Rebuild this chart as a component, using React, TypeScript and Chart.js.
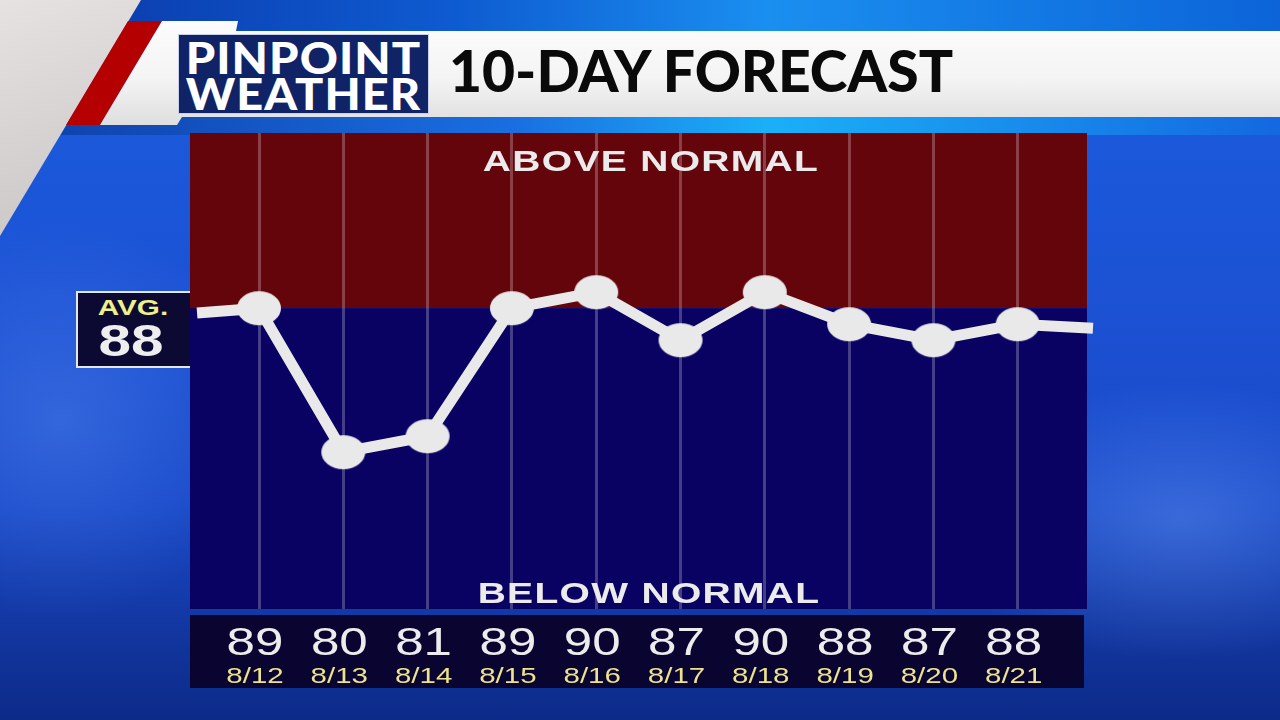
import React, { useEffect, useRef } from "react";
import { Chart, registerables } from "chart.js";

Chart.register(...registerables);

// ---- data ----
const dates = ["8/12", "8/13", "8/14", "8/15", "8/16", "8/17", "8/18", "8/19", "8/20", "8/21"];
const highs = [89, 80, 81, 89, 90, 87, 90, 88, 87, 88];
const avgHigh = 88;
const normalBoundary = 89; // where the red / blue bands meet
const lineLeadIn = 88.7; // line continues off the first day
const lineLeadOut = 87.75; // line continues past the last day
const yMin = 70.2;
const yMax = 99.95;

const SANS = "'Liberation Sans', Arial, sans-serif";

export default function App() {
  const ref = useRef<HTMLCanvasElement>(null);

  useEffect(() => {
    const canvas = ref.current!;
    const dot = document.createElement("canvas");
    dot.width = 46;
    dot.height = 36;
    const dc = dot.getContext("2d")!;
    dc.fillStyle = "#e9e9e9";
    dc.beginPath();
    dc.ellipse(23, 18, 22, 17, 0, 0, Math.PI * 2);
    dc.fill();

    const bandPlugin = {
      id: "bands",
      beforeDraw(chart: any) {
        const { ctx, chartArea: a, scales } = chart;
        const yb = scales.y.getPixelForValue(normalBoundary);
        ctx.save();
        ctx.fillStyle = "rgb(100,5,12)";
        ctx.fillRect(a.left, a.top, a.right - a.left, yb - a.top);
        ctx.fillStyle = "rgb(10,2,98)";
        ctx.fillRect(a.left, yb, a.right - a.left, a.bottom - yb);
        ctx.restore();
      },
    };

    // draws the axis tick labels horizontally stretched, like the broadcast graphic
    const stretchLabels = {
      id: "stretchLabels",
      afterDraw(chart: any) {
        const { ctx } = chart;
        const specs = [
          { id: "x", size: 39, color: "#ececec", base: 46 },
          { id: "xd", size: 22.5, color: "#ece38c", base: 24 },
        ];
        ctx.save();
        ctx.textAlign = "center";
        ctx.textBaseline = "alphabetic";
        for (const s of specs) {
          const scale = chart.scales[s.id];
          ctx.font = `${s.size}px ${SANS}`;
          ctx.fillStyle = s.color;
          scale.ticks.forEach((t: any) => {
            const px = scale.getPixelForValue(t.value) - 4;
            ctx.save();
            ctx.translate(px, scale.top + s.base);
            ctx.scale(1.31, 1);
            ctx.fillText(String(t.label), 0, 0);
            ctx.restore();
          });
        }
        ctx.restore();
      },
    };

    const pts = [
      { x: -0.735, y: lineLeadIn },
      ...highs.map((v, i) => ({ x: i, y: v })),
      { x: 9.893, y: lineLeadOut },
    ];
    const last = pts.length - 1;
    const xMin = -0.8185;
    const xMax = 9.822;
    const dayTicks = (s: any) => {
      s.ticks = highs.map((_, i) => ({ value: i }));
    };

    const chart = new Chart(canvas, {
      type: "line",
      data: {
        datasets: [
          {
            data: pts,
            xAxisID: "x",
            yAxisID: "y",
            borderColor: "#e9e9e9",
            borderWidth: 11,
            tension: 0,
            clip: false as any,
            pointStyle: dot as any,
            pointRadius: (c: any) => (c.dataIndex === 0 || c.dataIndex === last ? 0 : 17),
            pointHoverRadius: (c: any) => (c.dataIndex === 0 || c.dataIndex === last ? 0 : 17),
          },
        ],
      },
      options: {
        animation: false,
        responsive: false,
        events: [],
        layout: { padding: { left: 190, top: 133, right: 193, bottom: 31 } },
        plugins: { legend: { display: false }, tooltip: { enabled: false } },
        scales: {
          x: {
            type: "linear",
            position: "bottom",
            weight: 0,
            min: xMin,
            max: xMax,
            afterBuildTicks: dayTicks,
            afterFit: (s: any) => {
              s.height = 50;
            },
            ticks: {
              callback: (v: any) => String(highs[v]),
              font: { family: SANS, size: 38 },
              color: "rgba(0,0,0,0)",
              padding: 9,
              maxRotation: 0,
              autoSkip: false,
            },
            grid: { color: "rgba(255,255,255,0.24)", lineWidth: 3, drawTicks: false },
            border: { display: false },
          },
          xd: {
            type: "linear",
            position: "bottom",
            weight: 1,
            min: xMin,
            max: xMax,
            afterBuildTicks: dayTicks,
            afterFit: (s: any) => {
              s.height = 30;
            },
            ticks: {
              callback: (v: any) => dates[v],
              font: { family: SANS, size: 22 },
              color: "rgba(0,0,0,0)",
              padding: 3,
              maxRotation: 0,
              autoSkip: false,
            },
            grid: { display: false, drawTicks: false },
            border: { display: false },
          },
          y: { display: false, min: yMin, max: yMax },
        },
      },
      plugins: [bandPlugin, stretchLabels],
    } as any);
    return () => chart.destroy();
  }, []);

  const abs = (s: React.CSSProperties): React.CSSProperties => ({ position: "absolute", ...s });

  return (
    <div
      style={{
        position: "fixed",
        left: 0,
        top: 0,
        width: 1280,
        height: 720,
        overflow: "hidden",
        fontFamily: SANS,
        background:
          "radial-gradient(ellipse 240px 140px at 1180px 520px, rgba(120,170,255,0.35), rgba(120,170,255,0) 100%)," +
          "radial-gradient(ellipse 200px 200px at 60px 420px, rgba(110,160,255,0.3), rgba(110,160,255,0) 100%)," +
          "linear-gradient(180deg, #1a5ee0 0%, #1c52d4 40%, #1848c8 70%, #12369f 88%, #0c2a88 100%)",
      }}
    >
      {/* top strip */}
      <div style={abs({ left: 0, top: 0, width: 1280, height: 32, background: "linear-gradient(90deg, #0a36a6 0%, #0e5ad0 35%, #1a8ff0 60%, #0c64d8 100%)" })} />
      {/* strip between header and plot */}
      <div style={abs({ left: 0, top: 117, width: 1280, height: 18, background: "linear-gradient(90deg, #0d3ea8 0%, #1a6ee0 40%, #1ab0f8 60%, #1468e0 100%)" })} />
      {/* grey corner */}
      <div style={abs({ left: 0, top: 0, width: 141, height: 236, background: "linear-gradient(160deg, #e6e2e2, #c9c4c4)", clipPath: "polygon(0 0, 141px 0, 0 236px)" })} />
      {/* red stripe */}
      <div style={abs({ left: 0, top: 0, width: 240, height: 130, background: "#b40000", clipPath: "polygon(128px 21px, 162px 21px, 100px 125px, 66px 125px)" })} />
      {/* white header bar */}
      <div
        style={abs({
          left: 0,
          top: 0,
          width: 1280,
          height: 130,
          background: "linear-gradient(180deg, #ffffff 0%, #f4f4f4 60%, #dcdcdc 100%)",
          clipPath: "polygon(162px 21px, 238px 21px, 236px 31px, 1280px 31px, 1280px 117px, 182px 117px, 177px 125px, 100px 125px)",
        })}
      />
      {/* logo */}
      <div
        style={abs({
          left: 178,
          top: 34,
          width: 249,
          height: 78,
          background: "#0f2366",
          border: "1px solid #c8d0e8",
          color: "#ffffff",
          fontFamily: "Lato, sans-serif",
          fontWeight: 900,
          textAlign: "center",
        })}
      >
        <div style={abs({ left: 0, top: 1, width: 249, fontSize: 44, lineHeight: "42px", letterSpacing: 1, transform: "scaleX(1.07)" })}>PINPOINT</div>
        <div style={abs({ left: 0, top: 38, width: 249, fontSize: 43, lineHeight: "42px", letterSpacing: 1, transform: "scaleX(1.09)" })}>WEATHER</div>
      </div>
      {/* title */}
      <div style={abs({ left: 449, top: 42, fontFamily: "Lato, sans-serif", fontWeight: 900, fontSize: 57, lineHeight: "57px", color: "#0a0a0a", whiteSpace: "nowrap" })}>
        10-DAY FORECAST
      </div>
      {/* average box */}
      <div style={abs({ left: 76, top: 291, width: 130, height: 73, background: "#0c0a32", border: "2px solid #e6e6e6" })} />
      <div style={abs({ left: 83, top: 297, width: 100, textAlign: "center", fontWeight: 700, fontSize: 22, lineHeight: "22px", color: "#eef08a", transform: "scaleX(1.35)" })}>AVG.</div>
      <div style={abs({ left: 81, top: 318, width: 100, textAlign: "center", fontWeight: 700, fontSize: 45, lineHeight: "45px", color: "#eeeeee", transform: "scaleX(1.3)" })}>{avgHigh}</div>
      {/* label box */}
      <div style={abs({ left: 190, top: 615, width: 894, height: 73, background: "#0a0530" })} />
      <canvas ref={ref} width={1280} height={720} style={abs({ left: 0, top: 0, width: 1280, height: 720 })} />
      {/* band captions */}
      <div
        style={abs({
          left: 651,
          top: 161,
          transform: "translate(-50%, -50%) scaleX(1.3)",
          fontWeight: 700,
          fontSize: 30,
          lineHeight: "30px",
          letterSpacing: 1,
          color: "#ebebeb",
          whiteSpace: "nowrap",
        })}
      >
        ABOVE NORMAL
      </div>
      <div
        style={abs({
          left: 649,
          top: 593,
          transform: "translate(-50%, -50%) scaleX(1.3)",
          fontWeight: 700,
          fontSize: 30,
          lineHeight: "30px",
          letterSpacing: 1,
          color: "#ebebeb",
          whiteSpace: "nowrap",
        })}
      >
        BELOW NORMAL
      </div>
    </div>
  );
}
